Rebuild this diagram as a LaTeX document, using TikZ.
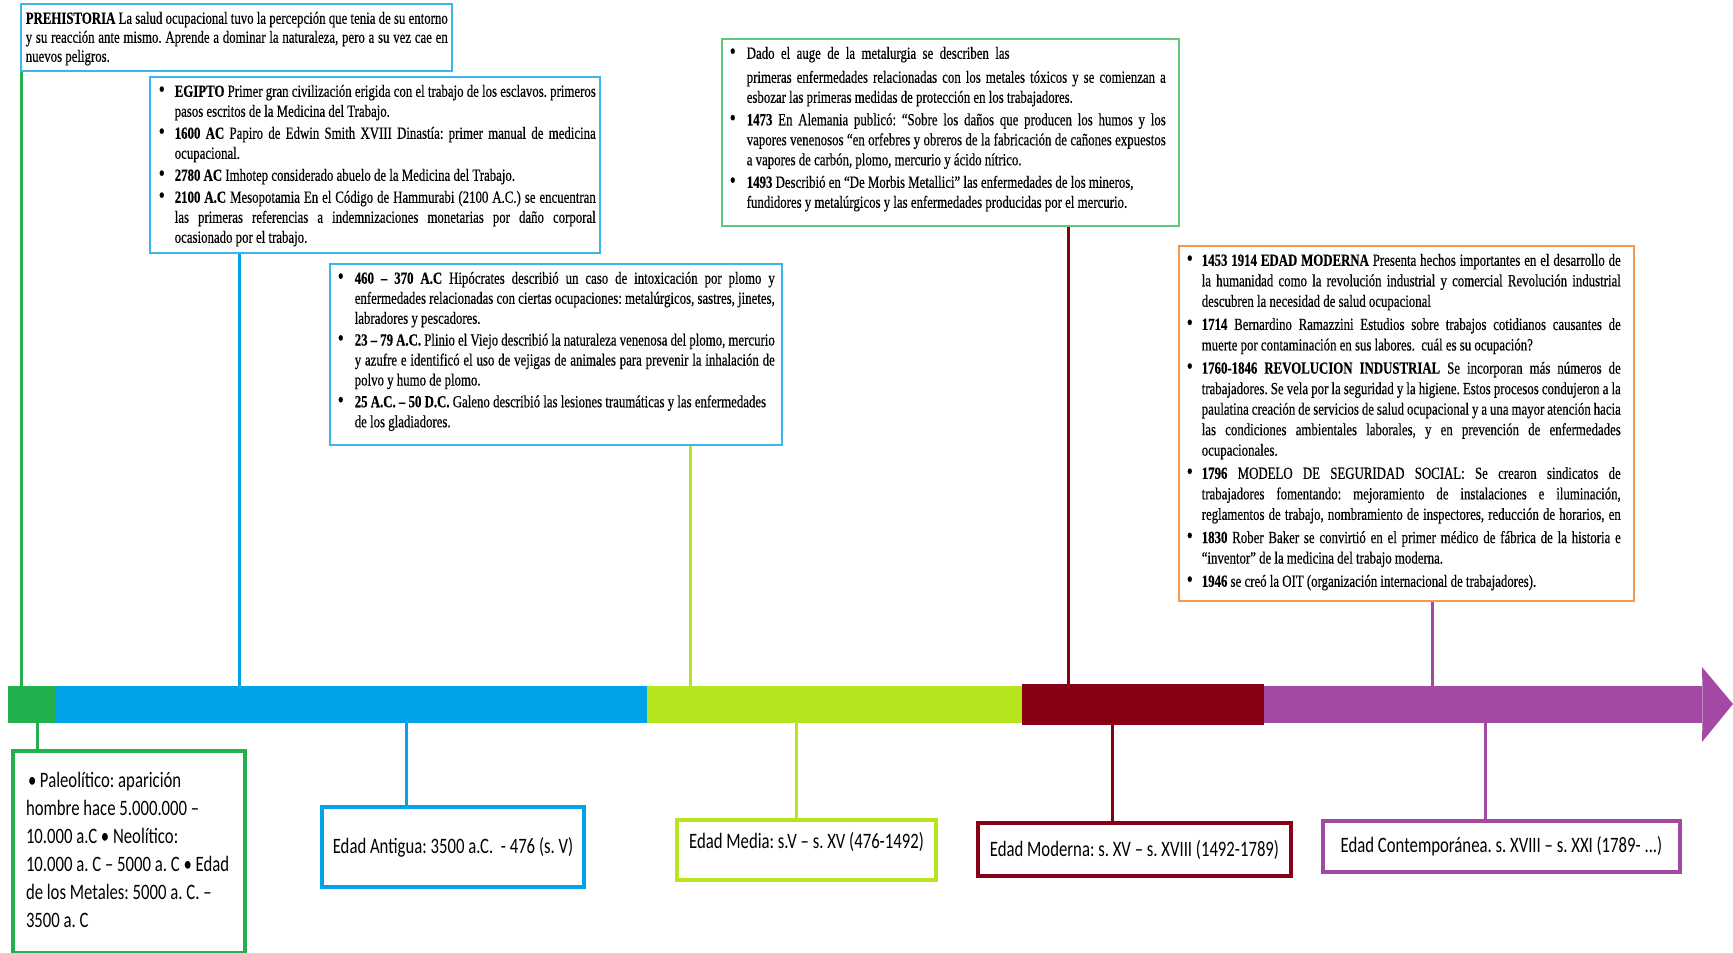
\documentclass[tikz,border=0pt]{standalone}
\usepackage{fontspec}
\usepackage{graphicx}
\newfontfamily\serfont[FakeStretch=0.755,FakeBold=0.4]{Liberation Serif}
\newfontfamily\calfont[FakeStretch=0.76]{Carlito}
\definecolor{cgreen}{HTML}{22B14C}
\definecolor{cblue}{HTML}{00A2E8}
\definecolor{cyg}{HTML}{B5E61D}
\definecolor{cred}{HTML}{880015}
\definecolor{cpurple}{HTML}{A349A4}
\definecolor{lblue}{HTML}{3CB6E8}
\definecolor{lgreen}{HTML}{5CC878}
\definecolor{corange}{HTML}{F7984F}
\newlength{\bulletoff}\newlength{\textind}\newlength{\itemgap}
\newcommand{\itm}[1]{\parfillskip=0pt plus 1fil\relax\hangindent=\textind\hangafter=1\noindent\makebox[\textind][l]{\hspace{\bulletoff}\scalebox{1.35}{\textbullet}}#1\par\vspace{\itemgap}}
% width, height, bullet offset, text indent, right pad, item gap, baselineskip, content
\newcommand{\tb}[8]{\begin{minipage}[c][#2][t]{#1}\serfont\fontsize{17}{#7}\selectfont\frenchspacing\tolerance=9999\hbadness=10000\hfuzz=20pt\setlength{\bulletoff}{#3}\setlength{\textind}{#4}\setlength{\itemgap}{#6}\rightskip=#5\relax #8\end{minipage}}
\begin{document}
\begin{tikzpicture}[x=1pt,y=-1pt,
  tbox/.style={draw=#1, line width=1.5pt, inner sep=0pt, anchor=north west, fill=white},
  bbox/.style={draw=#1, line width=4pt, inner sep=0pt, fill=white, font=\calfont\fontsize{22}{28}\selectfont\frenchspacing},
  conn/.style={draw=#1, line width=3pt},
  seg/.style={fill=#1, inner sep=0pt, anchor=north west}]
\useasboundingbox (0,0) rectangle (1733,953);

% top boxes
\node[tbox=lblue] (pre) at (20,3) {\tb{431pt}{67pt}{0pt}{0pt}{4pt}{0pt}{19pt}{\leftskip=5pt\noindent\rule{0pt}{20pt}\textbf{PREHISTORIA} La salud ocupacional tuvo la percepción que tenia de su entorno\linebreak y su reacción ante mismo. Aprende a dominar la naturaleza, pero a su vez cae en\linebreak nuevos peligros.\par}};

\node[tbox=lblue] (egi) at (149,76) {\tb{450pt}{176pt}{9pt}{25pt}{4pt}{2pt}{20pt}{%
\itm{\rule{0pt}{20pt}\textbf{EGIPTO} Primer gran civilización erigida con el trabajo de los esclavos. primeros\linebreak pasos escritos de la Medicina del Trabajo.}
\itm{\textbf{1600 AC} Papiro de Edwin Smith XVIII Dinastía: primer manual de medicina\linebreak ocupacional.}
\itm{\textbf{2780 AC} Imhotep considerado abuelo de la Medicina del Trabajo.}
\itm{\textbf{2100 A.C} Mesopotamia En el Código de Hammurabi (2100 A.C.) se encuentran\linebreak las primeras referencias a indemnizaciones monetarias por daño corporal\linebreak ocasionado por el trabajo.}}};

\node[tbox=lblue] (hip) at (329,263) {\tb{452pt}{181pt}{8pt}{25pt}{7pt}{1.75pt}{20pt}{%
\itm{\rule{0pt}{20pt}\textbf{460 – 370 A.C} Hipócrates describió un caso de intoxicación por plomo y\linebreak enfermedades relacionadas con ciertas ocupaciones: metalúrgicos, sastres, jinetes,\linebreak labradores y pescadores.}
\itm{\textbf{23 – 79 A.C.} Plinio el Viejo describió la naturaleza venenosa del plomo, mercurio\linebreak y azufre e identificó el uso de vejigas de animales para prevenir la inhalación de\linebreak polvo y humo de plomo.}
\itm{\textbf{25 A.C. – 50 D.C.} Galeno describió las lesiones traumáticas y las enfermedades\newline de los gladiadores.}}};

\node[tbox=lgreen] (met) at (721,38) {\tb{457pt}{187pt}{8pt}{25pt}{13pt}{2.5pt}{20pt}{%
\itm{\rule{0pt}{20pt}Dado\ \ el\ \ auge\ \ de\ \ la\ \ metalurgia\ \ se\ \ describen\ \ las\\[4pt] primeras enfermedades relacionadas con los metales tóxicos y se comienzan a\linebreak esbozar las primeras medidas de protección en los trabajadores.}
\itm{\textbf{1473} En Alemania publicó: “Sobre los daños que producen los humos y los\linebreak vapores venenosos “en orfebres y obreros de la fabricación de cañones expuestos\linebreak a vapores de carbón, plomo, mercurio y ácido nítrico.}
\itm{\textbf{1493} Describió en “De Morbis Metallici” las enfermedades de los mineros,\newline fundidores y metalúrgicos y las enfermedades producidas por el mercurio.}}};

\node[tbox=corange] (ora) at (1178,245) {\tb{455pt}{355pt}{8pt}{23pt}{13pt}{2.7pt}{20.5pt}{%
\itm{\rule{0pt}{20pt}\textbf{1453 1914 EDAD MODERNA} Presenta hechos importantes en el desarrollo de\linebreak la humanidad como la revolución industrial y comercial Revolución industrial\linebreak descubren la necesidad de salud ocupacional}
\itm{\textbf{1714} Bernardino Ramazzini Estudios sobre trabajos cotidianos causantes de\linebreak muerte por contaminación en sus labores.\ \ cuál es su ocupación?}
\itm{\textbf{1760-1846 REVOLUCION INDUSTRIAL} Se incorporan más números de\linebreak trabajadores. Se vela por la seguridad y la higiene. Estos procesos condujeron a la\linebreak paulatina creación de servicios de salud ocupacional y a una mayor atención hacia\linebreak las condiciones ambientales laborales, y en prevención de enfermedades\linebreak ocupacionales.}
\itm{\textbf{1796} MODELO DE SEGURIDAD SOCIAL: Se crearon sindicatos de\linebreak trabajadores fomentando: mejoramiento de instalaciones e iluminación,\linebreak reglamentos de trabajo, nombramiento de inspectores, reducción de horarios, en\parfillskip=0pt\relax}
\itm{\textbf{1830} Rober Baker se convirtió en el primer médico de fábrica de la historia e\linebreak “inventor” de la medicina del trabajo moderna.}
\itm{\textbf{1946} se creó la OIT (organización internacional de trabajadores).}}};

% timeline bar
\node[seg=cgreen, minimum width=48pt, minimum height=37pt] (barg) at (8,686) {};
\node[seg=cblue, minimum width=591pt, minimum height=37pt] (barb) at (56,686) {};
\node[seg=cyg, minimum width=375pt, minimum height=37pt] (bary) at (647,686) {};
\node[seg=cpurple, minimum width=438pt, minimum height=37pt] (barp) at (1264,686) {};
\node[seg=cred, minimum width=242pt, minimum height=41pt] (barr) at (1022,684) {};
\coordinate (headtop) at (1702,667);
\coordinate (headtip) at (1733,704);
\coordinate (headbot) at (1702,742);
\fill[cpurple] (barp.north east) -- (headtop) -- (headtip) -- (headbot) -- (barp.south east) -- cycle;

% bottom boxes
\node[bbox=cgreen, minimum width=232pt, minimum height=202pt, anchor=north west] (pal) at (11,749) {\begin{minipage}[c][202pt][t]{232pt}\calfont\fontsize{22}{28}\selectfont\leftskip=13pt\noindent\rule{0pt}{36pt}\hspace{2pt}•\,Paleolítico: aparición\\ hombre hace 5.000.000 –\\ 10.000 a.C • Neolítico:\\ 10.000 a. C – 5000 a. C • Edad\\ de los Metales: 5000 a. C. –\\ 3500 a. C\end{minipage}};
\node[bbox=cblue, minimum width=262pt, minimum height=80pt] (ant) at (453,847) {Edad Antigua: 3500 a.C.\ \ - 476 (s. V)};
\node[bbox=cyg, minimum width=259pt, minimum height=60pt, text height=16.5pt, text depth=20.5pt] (med) at (806.5,850) {Edad Media: s.V – s. XV (476-1492)};
\node[bbox=cred, minimum width=313pt, minimum height=53pt] (mod) at (1134.5,849.5) {Edad Moderna: s. XV – s. XVIII (1492-1789)};
\node[bbox=cpurple, minimum width=357pt, minimum height=51pt] (con) at (1501.5,846.5) {Edad Contemporánea. s. XVIII – s. XXI (1789- ...)};

% connector x positions
\coordinate (x1) at (21,0);
\coordinate (x2) at (239,0);
\coordinate (x3) at (690,0);
\coordinate (x4) at (1068,0);
\coordinate (x5) at (1432,0);
\coordinate (y1) at (37,0);
\coordinate (y2) at (406,0);
\coordinate (y3) at (796,0);
\coordinate (y4) at (1112,0);
\coordinate (y5) at (1485,0);

\draw[conn=cgreen] (pre.south -| x1) -- (barg.north -| x1);
\draw[conn=cblue] (egi.south -| x2) -- (barb.north -| x2);
\draw[conn=cyg] (hip.south -| x3) -- (bary.north -| x3);
\draw[conn=cred] (met.south -| x4) -- (barr.north -| x4);
\draw[conn=cpurple] (ora.south -| x5) -- (barp.north -| x5);

\draw[conn=cgreen] (barg.south -| y1) -- (pal.north -| y1);
\draw[conn=cblue] (barb.south -| y2) -- (ant.north -| y2);
\draw[conn=cyg] (bary.south -| y3) -- (med.north -| y3);
\draw[conn=cred] (barr.south -| y4) -- (mod.north -| y4);
\draw[conn=cpurple] (barp.south -| y5) -- (con.north -| y5);
\end{tikzpicture}
\end{document}
